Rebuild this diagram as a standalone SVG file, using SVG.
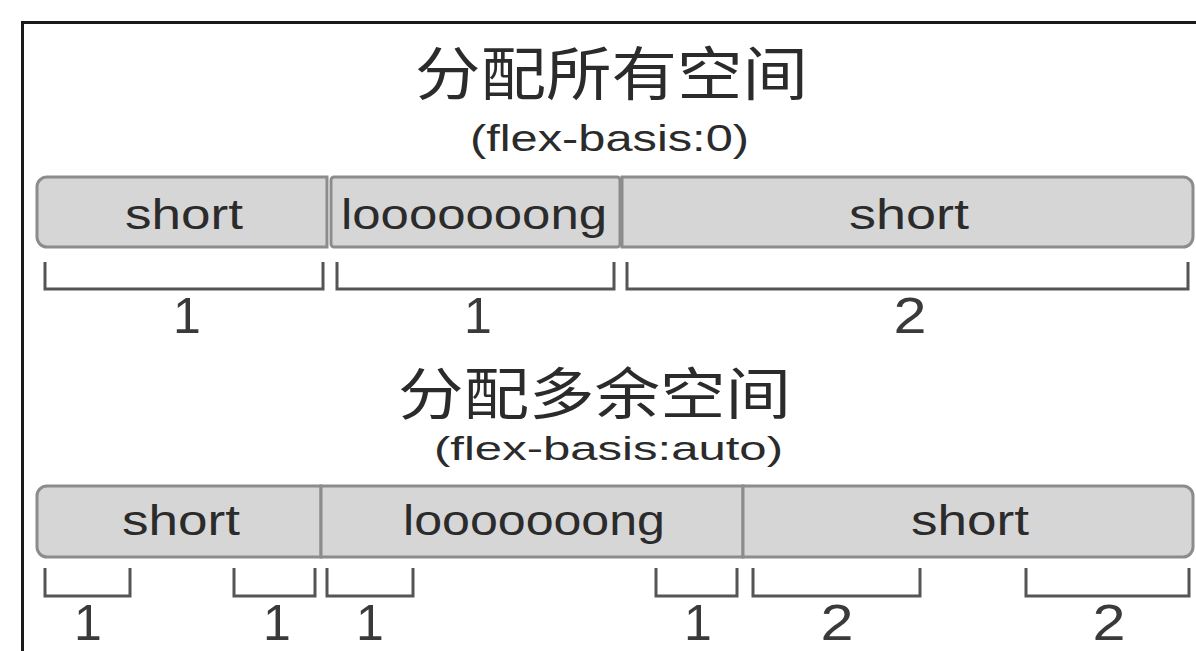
<svg xmlns="http://www.w3.org/2000/svg" width="1196" height="651" viewBox="0 0 1196 651">
<style>
.frame{fill:#fff;stroke:#1a1a1a;stroke-width:3}
.box{fill:#d6d6d6;stroke:#8c8c8c;stroke-width:3}
.br{fill:none;stroke:#555;stroke-width:3}
.t{font-family:"Liberation Sans",Arial,sans-serif;fill:#2b2b2b}
.cjk{font-family:"Noto Sans CJK SC","Noto Sans CJK TC",sans-serif;fill:#2b2b2b}
.lbl{font-family:"Liberation Sans",Arial,sans-serif;fill:#3a3a3a;font-size:50px;text-anchor:middle}
.box-t{font-size:42px}
</style>
<rect x="0" y="0" width="1196" height="651" fill="#fff"/>
<rect class="frame" x="22.5" y="22.5" width="1200" height="700"/>

<g id="title1">
<text class="cjk" x="415" y="95" font-size="58" textLength="393" lengthAdjust="spacingAndGlyphs">分配所有空间</text>
<text class="t" x="470" y="151" font-size="36" textLength="279" lengthAdjust="spacingAndGlyphs">(flex-basis:0)</text>
</g>

<g id="top-short-1">
<path class="box" d="M47,177 H327 V247 H47 A10,10 0 0 1 37,237 V187 A10,10 0 0 1 47,177 Z"/>
<text class="t box-t" x="125" y="229" textLength="118" lengthAdjust="spacingAndGlyphs">short</text>
</g>
<g id="top-long">
<rect class="box" x="331" y="177" width="289" height="70" rx="3"/>
<text class="t box-t" x="341" y="229" textLength="266" lengthAdjust="spacingAndGlyphs">looooooong</text>
</g>
<g id="top-short-2">
<path class="box" d="M622,177 H1183 A10,10 0 0 1 1193,187 V237 A10,10 0 0 1 1183,247 H622 Z"/>
<text class="t box-t" x="849" y="229" textLength="120" lengthAdjust="spacingAndGlyphs">short</text>
</g>

<g id="title2">
<text class="cjk" x="398" y="414" font-size="56" textLength="393" lengthAdjust="spacingAndGlyphs">分配多余空间</text>
<text class="t" x="434" y="460" font-size="34" textLength="349" lengthAdjust="spacingAndGlyphs">(flex-basis:auto)</text>
</g>

<g id="bottom-short-1">
<path class="box" d="M47,486 H321 V557 H47 A10,10 0 0 1 37,547 V496 A10,10 0 0 1 47,486 Z"/>
<text class="t box-t" x="122" y="535" textLength="118" lengthAdjust="spacingAndGlyphs">short</text>
</g>
<g id="bottom-long">
<rect class="box" x="321" y="486" width="422" height="71"/>
<text class="t box-t" x="403" y="535" textLength="262" lengthAdjust="spacingAndGlyphs">looooooong</text>
</g>
<g id="bottom-short-2">
<path class="box" d="M743,486 H1183 A10,10 0 0 1 1193,496 V547 A10,10 0 0 1 1183,557 H743 Z"/>
<text class="t box-t" x="911" y="535" textLength="118" lengthAdjust="spacingAndGlyphs">short</text>
</g>

<g id="connectors">
<path class="br" d="M45,262 V289 H323 V262"/>
<path class="br" d="M337,262 V289 H614 V262"/>
<path class="br" d="M627,262 V289 H1188 V262"/>
<path class="br" d="M45,568 V596 H130 V568"/>
<path class="br" d="M234,568 V596 H315 V568"/>
<path class="br" d="M327,568 V596 H413 V568"/>
<path class="br" d="M656,568 V596 H737 V568"/>
<path class="br" d="M753,568 V596 H920 V568"/>
<path class="br" d="M1026,568 V596 H1189 V568"/>
</g>

<g id="labels">
<text class="lbl" x="187" y="333">1</text>
<text class="lbl" x="478" y="333">1</text>
<text class="lbl" x="910" y="333" textLength="33" lengthAdjust="spacingAndGlyphs">2</text>
<text class="lbl" x="88" y="640">1</text>
<text class="lbl" x="277" y="640">1</text>
<text class="lbl" x="370" y="640">1</text>
<text class="lbl" x="698" y="640">1</text>
<text class="lbl" x="837" y="640" textLength="33" lengthAdjust="spacingAndGlyphs">2</text>
<text class="lbl" x="1109" y="640" textLength="33" lengthAdjust="spacingAndGlyphs">2</text>
</g>
</svg>
